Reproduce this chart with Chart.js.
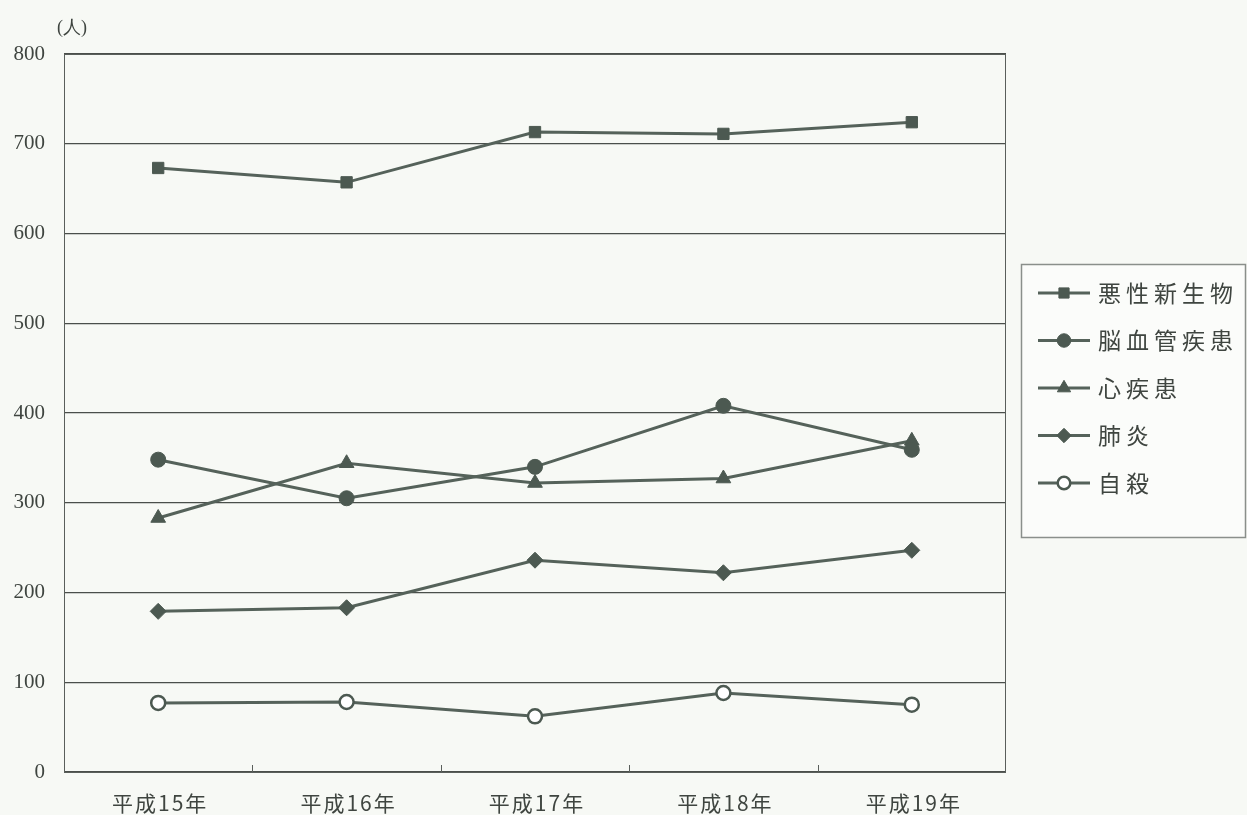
<!DOCTYPE html>
<html lang="ja">
<head>
<meta charset="utf-8">
<title>主要死因別死亡者数の推移</title>
<script src="https://cdn.jsdelivr.net/npm/chart.js@4/dist/chart.umd.min.js"></script>
<style>
  html, body { margin: 0; padding: 0; background: #f7f9f5; }
  #wrap { position: relative; width: 1247px; height: 815px; }
</style>
</head>
<body>
<div id="wrap"><canvas id="chart" width="1247" height="815"></canvas></div>
<script>
// 年次と主要死因別の死亡者数（人）
const years = ['平成15年', '平成16年', '平成17年', '平成18年', '平成19年'];
const malignant = [673, 657, 713, 711, 724];   // 悪性新生物
const cerebro = [348, 305, 340, 408, 359];     // 脳血管疾患
const heart = [283, 344, 322, 327, 369];       // 心疾患
const pneumonia = [179, 183, 236, 222, 247];   // 肺炎
const suicide = [77, 78, 62, 88, 75];          // 自殺
const yTicks = [0, 100, 200, 300, 400, 500, 600, 700, 800];

const LINE = '#55625a';
const MARK = '#4c5951';
const JP = '"Noto Sans CJK JP", "Noto Sans", sans-serif';
const NUM = '"Liberation Serif", "DejaVu Serif", serif';

function series(label, data, style, radius, open) {
  return {
    label, data,
    borderColor: LINE, borderWidth: 3,
    pointStyle: style, pointRadius: radius, pointHoverRadius: radius,
    pointBackgroundColor: open ? '#ffffff' : MARK,
    pointBorderColor: MARK, pointBorderWidth: open ? 2.5 : 1,
    tension: 0, fill: false
  };
}

const datasets = [
  series('悪性新生物', malignant, 'rect', 8, false),
  series('脳血管疾患', cerebro, 'circle', 7.5, false),
  series('心疾患', heart, 'triangle', 8.5, false),
  series('肺炎', pneumonia, 'rectRot', 8, false),
  series('自殺', suicide, 'circle', 7, true)
];

// 枠線・目盛り・カテゴリ名・凡例・単位の描画
const decorations = {
  id: 'decorations',
  afterDatasetsDraw(chart) {
    const { ctx, chartArea: a, scales: { x } } = chart;
    ctx.save();
    // 外枠
    ctx.strokeStyle = '#5a5f5b';
    ctx.lineWidth = 1;
    ctx.strokeRect(a.left + 0.5, a.top + 0.5, a.right - a.left - 1, a.bottom - a.top);
    // カテゴリ境界の短い目盛り（内向き）
    ctx.beginPath();
    for (let i = 1; i < years.length; i++) {
      const px = Math.round(x.getPixelForValue(i - 0.5)) + 0.5;
      ctx.moveTo(px, a.bottom - 7);
      ctx.lineTo(px, a.bottom + 1);
    }
    ctx.stroke();
    // カテゴリ名
    ctx.fillStyle = '#3f4540';
    ctx.font = '21px ' + JP;
    ctx.letterSpacing = '2px';
    ctx.textAlign = 'center';
    ctx.textBaseline = 'middle';
    years.forEach((y, i) => {
      ctx.fillText(y, x.getPixelForValue(i) + 2, a.bottom + 31);
    });
    // 単位
    ctx.letterSpacing = '0px';
    ctx.font = '18px ' + NUM;
    ctx.textAlign = 'left';
    ctx.fillText('(人)', 57, 28);

    // 凡例
    const box = { l: 1021, t: 264, r: 1246, b: 538 };
    ctx.fillStyle = '#fbfcfa';
    ctx.fillRect(box.l, box.t, box.r - box.l, box.b - box.t);
    ctx.strokeStyle = '#8a8f8b';
    ctx.lineWidth = 1.5;
    ctx.strokeRect(box.l + 0.5, box.t + 0.5, box.r - box.l - 1, box.b - box.t - 1);
    chart.data.datasets.forEach((ds, i) => {
      const cy = 293 + i * 47.5;
      ctx.strokeStyle = LINE;
      ctx.lineWidth = 3;
      ctx.beginPath();
      ctx.moveTo(1038, cy);
      ctx.lineTo(1090, cy);
      ctx.stroke();
      ctx.fillStyle = ds.pointBackgroundColor;
      ctx.strokeStyle = ds.pointBorderColor;
      ctx.lineWidth = ds.pointBorderWidth;
      Chart.helpers.drawPoint(ctx, {
        pointStyle: ds.pointStyle, radius: ds.pointRadius * 0.9,
        rotation: 0, borderWidth: ds.pointBorderWidth
      }, 1064, cy);
      ctx.fillStyle = '#3f4540';
      ctx.font = '23px ' + JP;
      ctx.letterSpacing = '5px';
      ctx.textAlign = 'left';
      ctx.textBaseline = 'middle';
      ctx.fillText(ds.label, 1098, cy);
    });
    ctx.restore();
  }
};

new Chart(document.getElementById('chart'), {
  type: 'line',
  data: { labels: years, datasets },
  options: {
    responsive: false,
    animation: false,
    events: [],
    layout: { padding: { top: 54, right: 241, left: 0, bottom: 0 } },
    plugins: { legend: { display: false }, tooltip: { enabled: false } },
    scales: {
      x: {
        type: 'category',
        offset: true,
        grid: { display: false },
        border: { display: false },
        ticks: { display: false },
        afterFit(s) { s.height = 43; }
      },
      y: {
        min: 0, max: 800,
        afterBuildTicks(s) { s.ticks = yTicks.map(v => ({ value: v })); },
        grid: { color: '#4a4f4b', lineWidth: 1.2, drawTicks: false },
        border: { display: false },
        ticks: {
          padding: 19,
          color: '#3f4540',
          font: { family: NUM, size: 21 }
        },
        afterFit(s) { s.width = 64; }
      }
    }
  },
  plugins: [decorations]
});
</script>
</body>
</html>
